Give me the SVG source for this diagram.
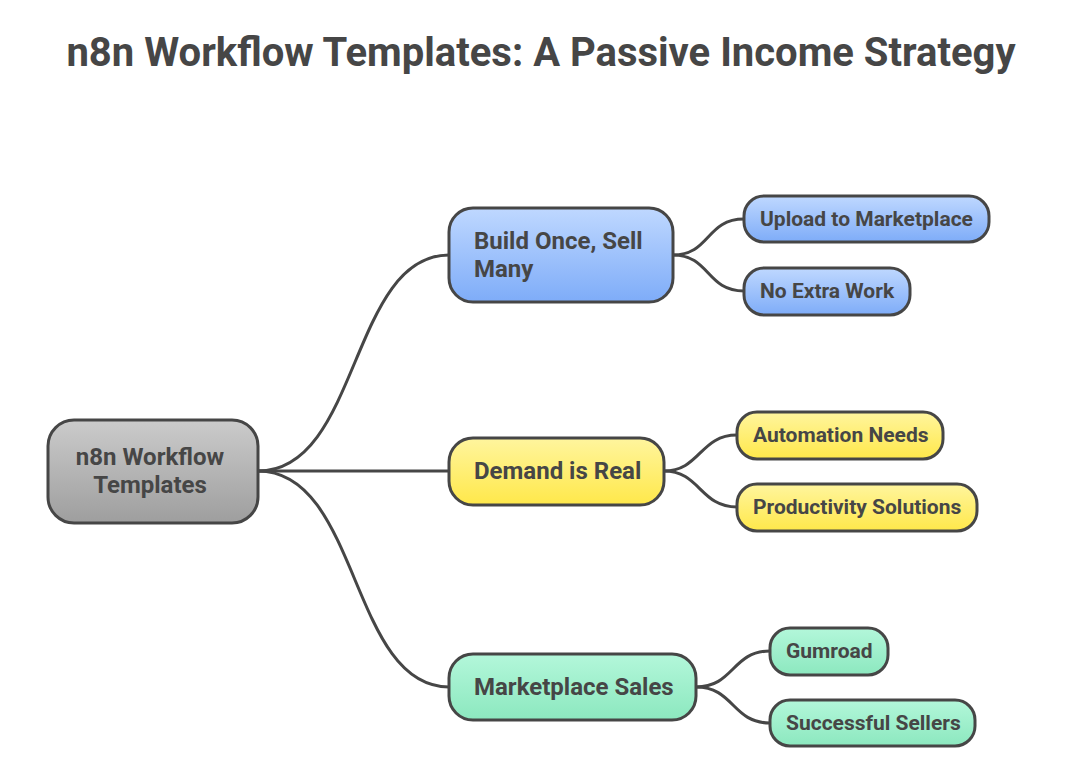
<svg xmlns="http://www.w3.org/2000/svg" width="1068" height="770" viewBox="0 0 1068 770">
<style>
.box{stroke:#464646;stroke-width:3}
.t{font-family:Roboto,"Liberation Sans",sans-serif;font-weight:bold;fill:#464646}
.l1{font-size:24px}
.l2{font-size:21px}
.c{fill:none;stroke:#464646;stroke-width:3}
</style>
<defs>
<linearGradient id="gGray" x1="0" y1="0" x2="0" y2="1"><stop offset="0" stop-color="#cbcbcb"/><stop offset="1" stop-color="#9e9e9e"/></linearGradient>
<linearGradient id="gBlue" x1="0" y1="0" x2="0" y2="1"><stop offset="0" stop-color="#bfd8ff"/><stop offset="1" stop-color="#7eacf8"/></linearGradient>
<linearGradient id="gYel" x1="0" y1="0" x2="0" y2="1"><stop offset="0" stop-color="#fff59e"/><stop offset="1" stop-color="#ffe84a"/></linearGradient>
<linearGradient id="gGrn" x1="0" y1="0" x2="0" y2="1"><stop offset="0" stop-color="#b3f7da"/><stop offset="1" stop-color="#8ce8bf"/></linearGradient>
</defs>
<rect width="1068" height="770" fill="#ffffff"/>
<text x="541" y="66" text-anchor="middle" class="t" font-size="40">n8n Workflow Templates: A Passive Income Strategy</text>
<g id="connectors">
<path class="c" d="M258,471 C360,471 350,255 449,255"/>
<path class="c" d="M258,471 L449,471"/>
<path class="c" d="M258,471 C360,471 350,687 449,687"/>
<path class="c" d="M673,255 C710,255 706,219 744,219"/>
<path class="c" d="M673,255 C710,255 706,291 744,291"/>
<path class="c" d="M664,471 C700,471 700,435 737,435"/>
<path class="c" d="M664,471 C700,471 700,507 737,507"/>
<path class="c" d="M696,687 C734,687 732,651 770,651"/>
<path class="c" d="M696,687 C734,687 732,723 770,723"/>
</g>
<g id="root">
<rect class="box" x="48" y="420" width="210" height="103" rx="26" fill="url(#gGray)"/>
<text class="t l1" x="150" y="465" text-anchor="middle">n8n Workflow</text>
<text class="t l1" x="150" y="493" text-anchor="middle">Templates</text>
</g>
<g id="build">
<rect class="box" x="449" y="208" width="224" height="94" rx="24" fill="url(#gBlue)"/>
<text class="t l1" x="474" y="249">Build Once, Sell</text>
<text class="t l1" x="474" y="277">Many</text>
</g>
<g id="upload">
<rect class="box" x="744" y="196" width="245" height="46" rx="20" fill="url(#gBlue)"/>
<text class="t l2" x="760" y="226">Upload to Marketplace</text>
</g>
<g id="noextra">
<rect class="box" x="744" y="268" width="166" height="47" rx="20" fill="url(#gBlue)"/>
<text class="t l2" x="760" y="298">No Extra Work</text>
</g>
<g id="demand">
<rect class="box" x="449" y="438" width="215" height="67" rx="24" fill="url(#gYel)"/>
<text class="t l1" x="474" y="479">Demand is Real</text>
</g>
<g id="automation">
<rect class="box" x="737" y="412" width="206" height="47" rx="20" fill="url(#gYel)"/>
<text class="t l2" x="753" y="442">Automation Needs</text>
</g>
<g id="productivity">
<rect class="box" x="737" y="484" width="240" height="47" rx="20" fill="url(#gYel)"/>
<text class="t l2" x="753" y="514">Productivity Solutions</text>
</g>
<g id="marketplace">
<rect class="box" x="449" y="654" width="247" height="66" rx="24" fill="url(#gGrn)"/>
<text class="t l1" x="474" y="695">Marketplace Sales</text>
</g>
<g id="gumroad">
<rect class="box" x="770" y="628" width="118" height="47" rx="20" fill="url(#gGrn)"/>
<text class="t l2" x="786" y="658">Gumroad</text>
</g>
<g id="sellers">
<rect class="box" x="770" y="700" width="205" height="46" rx="20" fill="url(#gGrn)"/>
<text class="t l2" x="786" y="730">Successful Sellers</text>
</g>
</svg>
